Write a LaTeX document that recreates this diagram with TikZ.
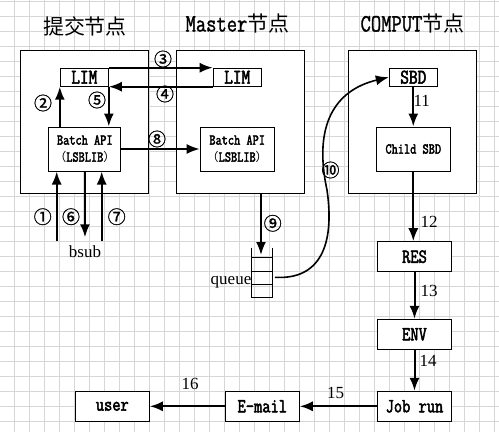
\documentclass[tikz,border=0pt]{standalone}
\usepackage{fontspec}
\setmainfont{Liberation Serif}
\newfontfamily\cjk{Noto Sans CJK SC}
\newfontfamily\cjkcirc[FakeBold=1]{Noto Sans CJK SC}
\newfontfamily\simlatin[FakeStretch=0.8, FakeBold=2.5]{Latin Modern Mono}
\newfontfamily\simtitle[FakeStretch=0.8, FakeBold=1.2]{Latin Modern Mono}
\usetikzlibrary{arrows.meta}
\tikzset{> = {Latex[length=13pt, width=10pt]}}
\definecolor{gridgray}{RGB}{214,214,214}
\newcommand\tlat[1]{{\simtitle\fontsize{25}{25}\selectfont #1}}
\newcommand\widep[1]{{\cjk\fontsize{12}{12}\selectfont #1}}
\tikzset{
  host/.style = {draw, fill=white, line width=1.2pt, minimum width=128pt, minimum height=143pt, inner sep=0pt},
  daemon/.style = {draw, fill=white, line width=1pt, minimum width=48pt, minimum height=18pt, inner sep=0pt, font=\simlatin\fontsize{21}{21}\selectfont},
  api/.style = {draw, fill=white, line width=1pt, minimum width=74pt, minimum height=44pt, inner sep=0pt, align=center, font=\simlatin\fontsize{15}{17}\selectfont},
  stage/.style = {draw, fill=white, line width=1pt, minimum width=74pt, minimum height=30pt, inner sep=0pt, font=\simlatin\fontsize{20}{20}\selectfont},
  title/.style = {anchor=base, inner sep=0pt, font=\cjk\fontsize{21}{21}\selectfont},
  circ/.style = {inner sep=0pt, font=\cjkcirc\fontsize{18}{18}\selectfont},
  num/.style = {inner sep=0pt, font=\fontsize{17}{17}\selectfont},
  flow/.style = {every edge/.style = {draw, ->, line width=2pt}}
}

\begin{document}
\begin{tikzpicture}[x=1pt, y=-1pt]
\useasboundingbox (0,0) rectangle (499,432);
\fill[white] (0,0) rectangle (499,432);
% grid
\foreach \x in {14.3,29.3,...,499}
  \draw[gridgray, line width=0.8pt] (\x,0) -- (\x,432);
\foreach \y in {1,16,...,432}
  \draw[gridgray, line width=0.8pt] (0,\y) -- (499,\y);

% nodes
\node[host] (subhost) at (84.5,121.6) {};
\node[host] (masterhost) at (240.2,121.6) {};
\node[host] (computhost) at (412.8,121.6) {};
\node[title] (subtitle) at (85,34.3) {提交节点};
\node[title] (mastertitle) at (237.5,31.5) {\tlat{Master}节点};
\node[title] (computtitle) at (412.5,31.5) {\tlat{COMPUT}节点};

\node[daemon] (limS) at (84.3,77.2) {LIM};
\node[daemon] (limM) at (237.2,77.2) {LIM};
\node[daemon] (sbd) at (413.3,77.2) {SBD};
\node[api, minimum width=72pt] (apiS) at (84.8,149) {Batch API\\\widep{（}LSBLIB\widep{）}};
\node[api] (apiM) at (237.2,149) {Batch API\\\widep{（}LSBLIB\widep{）}};
\node[api] (child) at (413.3,149) {Child SBD};

\node[stage] (res) at (414.5,256.7) {RES};
\node[stage] (env) at (414.5,334.3) {ENV};
\node[stage] (jobrun) at (414.5,406.3) {Job run};
\node[stage] (email) at (262.3,406.3) {E-mail};
\node[stage] (user) at (112.3,406.3) {user};

\node[anchor=base, inner sep=0pt, font=\fontsize{17}{17}\selectfont] (bsub) at (85,257.3) {bsub};
\node[anchor=base east, inner sep=0pt, font=\fontsize{17}{17}\selectfont] (queue) at (251.5,284.7) {queue};
\coordinate (in1) at (56.7,241);
\coordinate (in7) at (101.7,241);
\coordinate (qin) at (261,255);
\coordinate (qout) at (275,277.3);

% queue
\draw[line width=0.8pt] (251.7,247.5) -- (251.7,297.7) (272.3,247.5) -- (272.3,297.7);
\foreach \y in {257.3,271,284.3,297.7}
  \draw[line width=0.8pt] (251.7,\y) -- (272.3,\y);

% edges
\path[flow]
(in1) edge (in1 |- apiS.south)
(limS.south west |- apiS.north) edge (limS.south west)
(limS.north east) edge (limM.north west)
(limM.south west) edge (limS.south east)
(limS.south east) edge (limS.south east |- apiS.north)
(in7) edge (in7 |- apiS.south)
(apiS.east) edge (apiM.west)
(qin |- masterhost.south) edge (qin)
(sbd.south) edge (sbd.south |- child.north)
(child.south) edge (child.south |- res.north)
(res.south) edge (env.north)
(env.south) edge (jobrun.north)
(jobrun.west) edge (email.east)
(email.west) edge (user.east)
(apiS.south) edge[shorten >=8pt] (bsub.north);
\draw[->, line width=1.6pt] (qout) .. controls (320,280) and (335,245) .. (327,190)
  .. controls (313,125) and (335,90) .. (sbd.west);

% labels
\node[circ] (n1) at (42.7,216.7) {①};
\node[circ] (n2) at (43,103) {②};
\node[circ] (n3) at (163,59) {③};
\node[circ] (n4) at (165,94) {④};
\node[circ] (n5) at (97,100) {⑤};
\node[circ] (n6) at (71,216.7) {⑥};
\node[circ] (n7) at (116.7,216.7) {⑦};
\node[circ] (n8) at (157,139) {⑧};
\node[circ] (n9) at (272.7,223.3) {⑨};
\node[circ] (n10) at (330.5,170) {⑩};
\node[num] (n11) at (421.7,101) {11};
\node[num] (n12) at (429,222) {12};
\node[num] (n13) at (429,290.8) {13};
\node[num] (n14) at (428,361) {14};
\node[num] (n15) at (335.7,392.5) {15};
\node[num] (n16) at (190,383.5) {16};
\end{tikzpicture}
\end{document}
